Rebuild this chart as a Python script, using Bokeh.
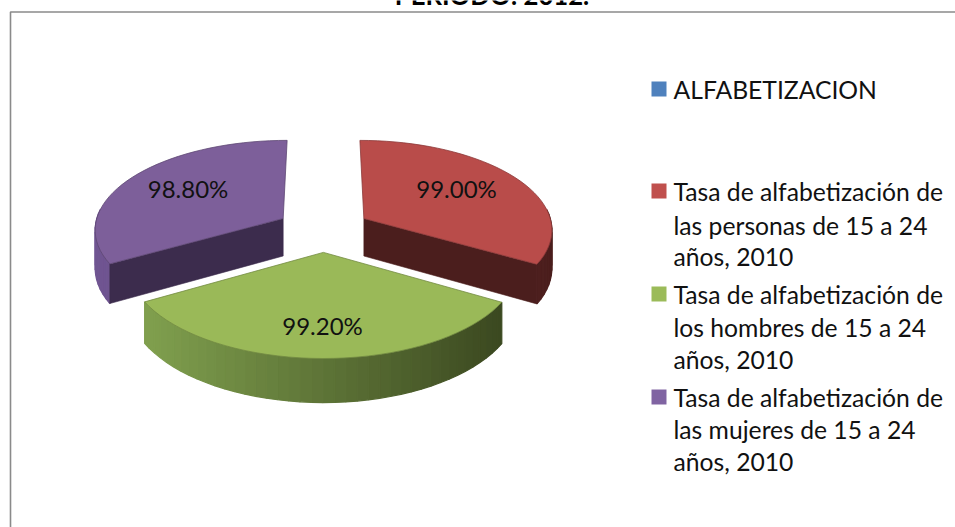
import math
from bokeh.plotting import figure
from bokeh.models import Range1d
from bokeh.core.properties import value
from bokeh.embed import file_html
from bokeh.resources import INLINE

title_text = "PERIODO: 2012."
series_names = [
    "ALFABETIZACION",
    "Tasa de alfabetización de\nlas personas de 15 a 24\naños, 2010",
    "Tasa de alfabetización de\nlos hombres de 15 a 24\naños, 2010",
    "Tasa de alfabetización de\nlas mujeres de 15 a 24\naños, 2010",
]
series_values = [0.0, 99.0, 99.2, 98.8]
value_labels = ["", "99.00%", "99.20%", "98.80%"]
swatch_colors = ["#4F81BD", "#C0504D", "#9BBB59", "#8064A2"]
top_colors = [None, "#B94C4A", "#9AB958", "#7D5F9A"]
wall_colors = [None, "#4B1E1D", None, "#3C2C4D"]
rim_left = [None, "#6A2E2C", "#80A04E", "#705592"]
rim_right = [None, "#4B1E1D", "#3B4820", "#5A4575"]
label_pos = [None, (456, 188), (322, 325), (187.5, 188)]
legend_y = [[88.5], [190.5, 224.5, 255.5], [293.5, 326.5, 358.5], [396.5, 428.5, 460.5]]

FONT = "Lato"
CX, CY, A, B, K, DEPTH, EXPLODE = 323, 229, 189, 89, 0.11, 38, 0.25


def project(x, y):
    d = 1 + K * y
    return CX + A * x / d, CY - B * y / d, DEPTH / d


def rgb(c):
    return [int(c[i:i + 2], 16) for i in (1, 3, 5)]


def mix(c1, c2, t):
    a, b = rgb(c1), rgb(c2)
    return "#%02x%02x%02x" % tuple(round(a[i] + (b[i] - a[i]) * t) for i in range(3))


p = figure(width=955, height=527, output_backend="svg", toolbar_location=None,
           x_range=Range1d(0, 955), y_range=Range1d(527, 0),
           x_axis_type=None, y_axis_type=None, min_border=0,
           margin=(0, 0, 0, 0), outline_line_color=None)
p.grid.visible = False
p.background_fill_color = "white"

# chart frame
p.line([10, 10, 955], [527, 11.5, 11.5], line_color="#8a8a8a", line_width=1.6)

total = sum(series_values)
start = 0.0
slices = []
for i, v in enumerate(series_values):
    sweep = v / total * 2 * math.pi
    slices.append((i, start, start + sweep))
    start += sweep

# back slices first, green (front) last
for i, a0, a1 in sorted(slices[1:], key=lambda s: -math.cos((s[1] + s[2]) / 2)):
    mid = (a0 + a1) / 2
    ox, oy = EXPLODE * math.sin(mid), EXPLODE * math.cos(mid)
    n = 40
    angs = [a0 + (a1 - a0) * j / n for j in range(n + 1)]
    rim = [(ox + math.sin(t), oy + math.cos(t)) for t in angs]
    pts = [project(x, y) for x, y in rim]
    apex = project(ox, oy)
    xmin, xmax = min(q[0] for q in pts), max(q[0] for q in pts)

    # outer rim strips, only the part that faces the viewer
    for j in range(n):
        if math.cos((angs[j] + angs[j + 1]) / 2) > 0.1:
            continue
        q0, q1 = pts[j], pts[j + 1]
        t = ((q0[0] + q1[0]) / 2 - xmin) / max(xmax - xmin, 1)
        col = mix(rim_left[i], rim_right[i], t)
        p.patch([q0[0], q1[0], q1[0], q0[0]],
                [q0[1], q1[1], q1[1] + q1[2], q0[1] + q0[2]],
                fill_color=col, line_color=col, line_width=1.2)

    # radial wall facing the viewer
    if wall_colors[i]:
        q = pts[-1] if i == 1 else pts[0]
        p.patch([apex[0], q[0], q[0], apex[0]],
                [apex[1], q[1], q[1] + q[2], apex[1] + apex[2]],
                fill_color=wall_colors[i], line_color=wall_colors[i], line_width=0.6)

    # top surface
    p.patch([apex[0]] + [q[0] for q in pts], [apex[1]] + [q[1] for q in pts],
            fill_color=top_colors[i], line_color=mix(top_colors[i], "#000000", 0.25),
            line_width=0.8)

# value labels
for i in range(1, 4):
    p.text([label_pos[i][0]], [label_pos[i][1]], text=[value_labels[i]],
           text_font=value(FONT), text_font_size="24px", text_color="#111111",
           text_align="center", text_baseline="middle")

# legend
for i, name in enumerate(series_names):
    lines = name.split("\n")
    ys = legend_y[i]
    p.rect([658.5], [ys[0]], width=15, height=15, fill_color=swatch_colors[i], line_color=None)
    for line, y in zip(lines, ys):
        p.text([673], [y], text=[line], text_font=value(FONT), text_font_size="24.7px",
               text_color="#111111", text_align="left", text_baseline="middle")

# title, cut by the top of the picture as in the source
p.text([491.5], [9], text=[title_text], text_font=value(FONT), text_font_size="25.7px",
       text_font_style="bold", text_color="#000000", text_align="center",
       text_baseline="bottom")

open("out.html", "w").write(file_html(p, INLINE))
